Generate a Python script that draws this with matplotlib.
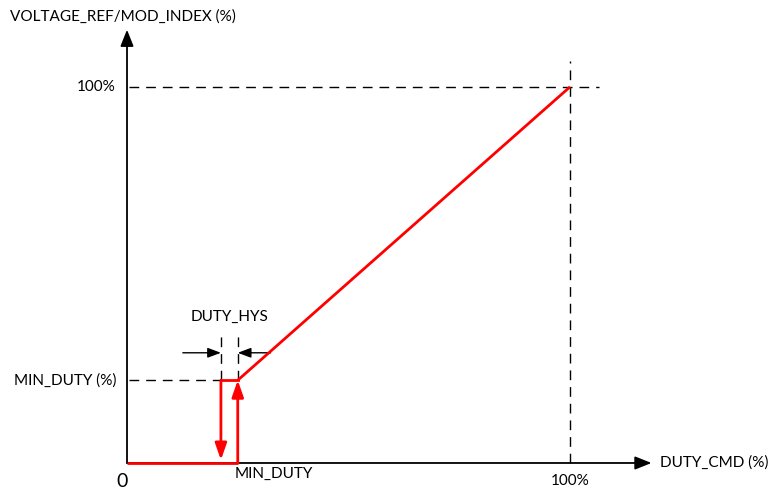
import matplotlib

matplotlib.use("Agg")
import matplotlib.pyplot as plt

# characteristic, in % of full scale
MIN_DUTY = 25.0        # duty command where output switches on
DUTY_HYS = 3.8         # hysteresis band below MIN_DUTY
MIN_OUT = 22.0         # output level at MIN_DUTY
FULL = 100.0

ramp_x = [MIN_DUTY, FULL]
ramp_y = [MIN_OUT, FULL]
off_x = [0.0, MIN_DUTY]
off_y = [0.0, 0.0]

RED = "#ff0000"
INK = "#000000"
FONT = ["Lato", "DejaVu Sans"]

fig = plt.figure(figsize=(7.72, 4.93), dpi=100)
ax = fig.add_axes([0, 0, 1, 1])
ax.set_xlim(-28.67, 145.6)
ax.set_ylim(-7.98, 123.1)
ax.axis("off")

# axes with arrow heads
ax.annotate("", xy=(118.4, 0), xytext=(0, 0),
            arrowprops=dict(arrowstyle="-|>,head_length=1.0,head_width=0.4",
                            color=INK, lw=1.3, shrinkA=0, shrinkB=0))
ax.annotate("", xy=(0, 115.2), xytext=(0, 0),
            arrowprops=dict(arrowstyle="-|>,head_length=1.0,head_width=0.4",
                            color=INK, lw=1.3, shrinkA=0, shrinkB=0))

dash = dict(color=INK, lw=1.0, dashes=(7, 5))
ax.plot([0.5, 106.5], [FULL, FULL], **dash)
ax.plot([FULL, FULL], [0, 107], **dash)
ax.plot([0.5, MIN_DUTY - DUTY_HYS], [MIN_OUT, MIN_OUT], **dash)
ax.plot([MIN_DUTY - DUTY_HYS] * 2, [MIN_OUT, 34.5], **dash)
ax.plot([MIN_DUTY] * 2, [MIN_OUT, 34.5], **dash)

# hysteresis dimension arrows
ax.annotate("", xy=(MIN_DUTY - DUTY_HYS, 29.3), xytext=(MIN_DUTY - DUTY_HYS - 8.6, 29.3),
            arrowprops=dict(arrowstyle="-|>,head_length=0.8,head_width=0.3",
                            color=INK, lw=1.0, shrinkA=0, shrinkB=0))
ax.annotate("", xy=(MIN_DUTY, 29.3), xytext=(MIN_DUTY + 7.4, 29.3),
            arrowprops=dict(arrowstyle="-|>,head_length=0.8,head_width=0.3",
                            color=INK, lw=1.0, shrinkA=0, shrinkB=0))

# red characteristic
lw = 2.0
ax.plot(off_x, off_y, color=RED, lw=lw, solid_capstyle="butt", zorder=3)
ax.plot(ramp_x, ramp_y, color=RED, lw=lw, solid_capstyle="butt", zorder=3)
ax.plot([MIN_DUTY - DUTY_HYS, MIN_DUTY], [MIN_OUT, MIN_OUT], color=RED, lw=lw, zorder=3)
ax.annotate("", xy=(MIN_DUTY, MIN_OUT), xytext=(MIN_DUTY, 0),
            arrowprops=dict(arrowstyle="-|>,head_length=1.0,head_width=0.35",
                            color=RED, lw=lw, shrinkA=0, shrinkB=0), zorder=4)
ax.annotate("", xy=(MIN_DUTY - DUTY_HYS, 0.8), xytext=(MIN_DUTY - DUTY_HYS, MIN_OUT),
            arrowprops=dict(arrowstyle="-|>,head_length=1.0,head_width=0.35",
                            color=RED, lw=lw, shrinkA=0, shrinkB=0), zorder=4)

fs = 11
ax.text(-26.4, 118.6, "VOLTAGE_REF/MOD_INDEX (%)", fontsize=fs, family=FONT,
        ha="left", va="center")
ax.text(-2.7, FULL, "100%", fontsize=fs, family=FONT, ha="right", va="center")
ax.text(-2.3, MIN_OUT, "MIN_DUTY (%)", fontsize=fs, family=FONT, ha="right", va="center")
ax.text(-1.1, -5.0, "0", fontsize=14, family=FONT, ha="center", va="center")
ax.text(FULL, -4.8, "100%", fontsize=fs, family=FONT, ha="center", va="center")
ax.text(MIN_DUTY - 0.8, -2.9, "MIN_DUTY", fontsize=fs, family=FONT, ha="left", va="center")
ax.text(120.3, 0, "DUTY_CMD (%)", fontsize=fs, family=FONT, ha="left", va="center")
ax.text(MIN_DUTY - DUTY_HYS / 2, 38.8, "DUTY_HYS", fontsize=fs, family=FONT,
        ha="center", va="center")

fig.savefig("out.png", dpi=100, facecolor="white")
